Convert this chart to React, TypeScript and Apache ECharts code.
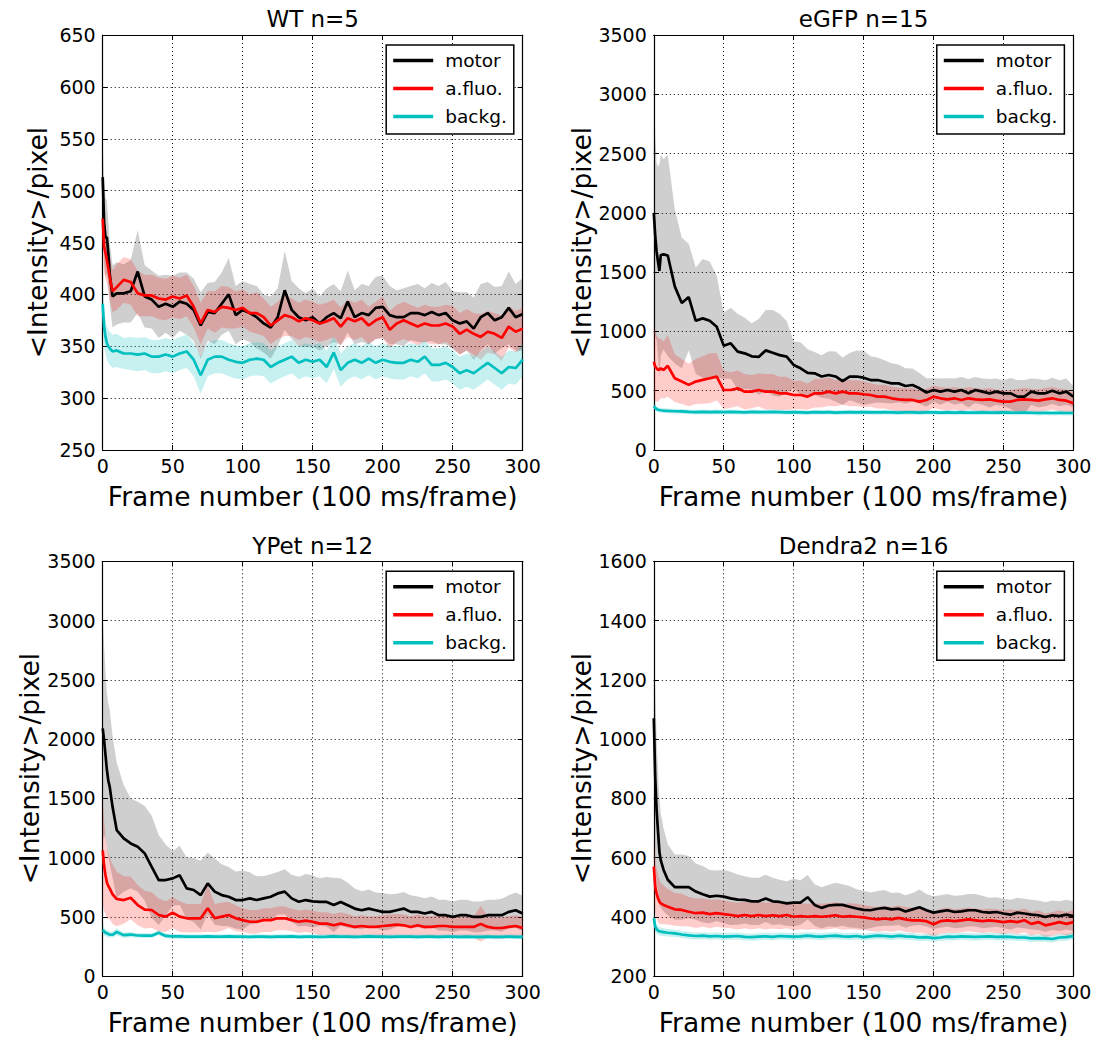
import React, { useEffect, useRef } from "react";
import * as echarts from "echarts";

const FONT = "DejaVu Sans";

// frame numbers at which values were read
const FRAMES = [
  0, 1, 2, 3, 4, 5, 7, 10, 15, 20,
  25, 30, 35, 40, 45, 50, 55, 60, 65, 70,
  75, 80, 85, 90, 95, 100, 105, 110, 115, 120,
  125, 130, 135, 140, 145, 150, 155, 160, 165, 170,
  175, 180, 185, 190, 195, 200, 205, 210, 215, 220,
  225, 230, 235, 240, 245, 250, 255, 260, 265, 270,
  275, 280, 285, 290, 295, 300,
];

const SERIES_NAMES = ["motor", "a.fluo.", "backg."];
const TITLES = ["WT n=5", "eGFP n=15", "YPet n=12", "Dendra2 n=16"];
const Y_MIN = [250, 0, 0, 200];
const Y_MAX = [650, 3500, 3500, 1600];
const Y_STEP = [50, 500, 500, 200];
const X_MIN = 0;
const X_MAX = 300;
const X_STEP = 50;
const X_NAME = "Frame number (100 ms/frame)";
const Y_NAME = "<Intensity>/pixel";

// ---------- WT n=5 ----------
const WT_MOTOR = [
  513, 470, 455, 455, 440, 420, 398, 401, 401, 403,
  422, 398, 395, 388, 391, 388, 393, 391, 385, 370,
  383, 382, 391, 400, 380, 385, 382, 378, 372, 368,
  378, 404, 385, 378, 375, 378, 372, 378, 382, 377,
  393, 378, 382, 380, 387, 388, 380, 378, 378, 382,
  382, 380, 383, 380, 382, 375, 372, 374, 367, 378,
  382, 375, 378, 387, 378, 381,
];
const WT_MOTOR_ERR = [
  35, 40, 38, 35, 32, 30, 30, 30, 28, 30,
  40, 30, 28, 30, 28, 30, 28, 30, 30, 32,
  28, 30, 30, 35, 28, 28, 28, 30, 28, 30,
  28, 38, 28, 28, 26, 28, 26, 28, 28, 26,
  30, 26, 28, 28, 30, 30, 28, 26, 28, 26,
  28, 26, 28, 28, 30, 28, 30, 28, 30, 32,
  30, 32, 30, 35, 32, 35,
];
const WT_FLUO = [
  473, 446, 440, 433, 425, 417, 403, 407, 414, 412,
  401, 399, 399, 396, 395, 398, 396, 399, 388, 372,
  385, 383, 388, 387, 385, 387, 382, 382, 378, 370,
  375, 380, 378, 374, 377, 375, 372, 374, 377, 369,
  377, 374, 377, 370, 375, 378, 366, 372, 375, 372,
  369, 372, 370, 370, 372, 369, 362, 366, 362, 359,
  364, 362, 358, 369, 364, 367,
];
const WT_FLUO_ERR = [
  25, 25, 24, 22, 22, 22, 20, 22, 22, 22,
  22, 20, 20, 20, 20, 20, 20, 20, 20, 20,
  18, 20, 20, 20, 18, 18, 18, 20, 18, 18,
  18, 20, 18, 18, 18, 18, 18, 18, 18, 18,
  18, 18, 18, 18, 18, 20, 18, 18, 18, 18,
  18, 18, 18, 18, 18, 20, 20, 20, 20, 22,
  20, 20, 22, 20, 20, 20,
];
const WT_BACKG = [
  391, 369, 359, 353, 350, 348, 345, 346, 343, 343,
  342, 343, 340, 340, 342, 340, 343, 345, 337, 322,
  337, 340, 340, 337, 335, 334, 337, 338, 337, 330,
  334, 337, 340, 334, 337, 335, 337, 330, 344, 327,
  334, 337, 334, 338, 334, 337, 335, 334, 334, 337,
  335, 340, 332, 332, 334, 330, 324, 327, 324, 329,
  334, 329, 324, 330, 329, 337,
];
const WT_BACKG_ERR = [
  20, 18, 16, 16, 16, 16, 16, 16, 15, 16,
  16, 16, 16, 16, 16, 16, 16, 16, 16, 18,
  16, 16, 16, 16, 16, 16, 16, 16, 16, 16,
  16, 16, 16, 16, 16, 16, 16, 16, 16, 16,
  16, 16, 16, 16, 16, 16, 16, 16, 16, 16,
  16, 16, 16, 16, 16, 16, 16, 16, 16, 16,
  16, 16, 16, 16, 16, 16,
];

// ---------- eGFP n=15 ----------
const EGFP_MOTOR = [
  2000, 1810, 1673, 1590, 1510, 1645, 1650, 1640, 1380, 1240,
  1290, 1090, 1110, 1090, 1040, 880, 900, 830, 815, 790,
  785, 840, 820, 800, 787, 717, 689, 650, 647, 620,
  633, 620, 580, 619, 620, 610, 590, 590, 576, 562,
  562, 540, 548, 520, 485, 506, 492, 506, 492, 506,
  478, 506, 492, 478, 492, 478, 478, 450, 450, 492,
  478, 478, 500, 478, 492, 450,
];
const EGFP_MOTOR_ERR = [
  1150, 850, 750, 800, 900, 850, 800, 850, 650, 550,
  450, 450, 500, 500, 430, 280, 300, 320, 300, 280,
  320, 340, 360, 350, 300, 200, 220, 200, 180, 180,
  200, 210, 200, 200, 220, 230, 200, 190, 180, 170,
  160, 150, 140, 130, 120, 100, 110, 100, 110, 110,
  120, 110, 110, 120, 110, 110, 130, 140, 140, 110,
  120, 110, 110, 110, 110, 90,
];
const EGFP_FLUO = [
  745, 703, 690, 675, 680, 689, 675, 710, 605, 577,
  549, 577, 591, 605, 619, 506, 506, 520, 492, 492,
  506, 492, 492, 478, 478, 464, 464, 450, 478, 478,
  492, 478, 492, 478, 478, 470, 464, 450, 450, 436,
  427, 422, 422, 408, 422, 450, 436, 427, 436, 422,
  436, 427, 422, 427, 416, 408, 408, 422, 427, 422,
  416, 427, 436, 422, 416, 394,
];
const EGFP_FLUO_ERR = [
  300, 290, 280, 270, 260, 250, 240, 260, 200, 190,
  180, 190, 200, 210, 200, 160, 150, 150, 150, 140,
  140, 150, 150, 140, 140, 120, 120, 110, 120, 120,
  120, 110, 110, 110, 110, 110, 100, 100, 100, 100,
  100, 100, 100, 95, 95, 95, 95, 95, 95, 95,
  95, 95, 95, 95, 95, 95, 95, 95, 95, 95,
  95, 95, 95, 95, 95, 90,
];
const EGFP_BACKG = [
  370, 355, 345, 340, 337, 335, 332, 330, 327, 325,
  322, 320, 322, 320, 322, 320, 322, 320, 318, 322,
  320, 320, 322, 320, 318, 320, 318, 316, 320, 318,
  320, 316, 318, 320, 318, 320, 318, 318, 320, 318,
  316, 318, 318, 316, 318, 318, 316, 318, 316, 318,
  316, 315, 318, 315, 316, 318, 315, 314, 316, 314,
  312, 314, 312, 314, 312, 312,
];
const EGFP_BACKG_ERR = [
  30, 25, 22, 20, 20, 20, 20, 20, 20, 20,
  20, 20, 20, 20, 20, 20, 20, 20, 20, 20,
  20, 20, 20, 20, 20, 20, 20, 20, 20, 20,
  20, 20, 20, 20, 20, 20, 20, 20, 20, 20,
  20, 20, 20, 20, 20, 20, 20, 20, 20, 20,
  20, 20, 20, 20, 20, 20, 20, 20, 20, 20,
  20, 20, 20, 20, 20, 20,
];

// ---------- YPet n=12 ----------
const YPET_MOTOR = [
  2090, 1990, 1865, 1740, 1650, 1598, 1430, 1232, 1162, 1119,
  1091, 1035, 922, 810, 810, 824, 850, 740, 726, 683,
  782, 712, 683, 669, 641, 641, 655, 641, 655, 669,
  697, 712, 655, 627, 641, 630, 625, 625, 600, 625,
  597, 569, 555, 569, 555, 541, 541, 555, 569, 541,
  541, 527, 541, 513, 513, 499, 513, 513, 499, 499,
  513, 513, 513, 541, 555, 527,
];
const YPET_MOTOR_ERR = [
  950, 800, 700, 650, 650, 650, 600, 570, 450, 380,
  380, 400, 430, 380, 300, 230, 250, 260, 270, 290,
  260, 280, 260, 250, 240, 250, 220, 200, 190, 190,
  180, 190, 200, 210, 220, 220, 200, 210, 230, 200,
  190, 170, 160, 160, 150, 160, 150, 140, 140, 140,
  130, 130, 130, 130, 130, 130, 130, 130, 130, 130,
  130, 130, 140, 140, 150, 150,
];
const YPET_FLUO = [
  1060, 930, 850, 790, 760, 740, 690, 650, 641, 660,
  599, 560, 557, 515, 501, 535, 501, 487, 487, 487,
  571, 487, 501, 515, 487, 472, 458, 458, 472, 472,
  487, 487, 472, 458, 467, 458, 442, 442, 428, 442,
  428, 414, 422, 414, 414, 422, 428, 433, 428, 414,
  428, 414, 414, 422, 422, 414, 414, 414, 414, 440,
  414, 405, 405, 414, 422, 405,
];
const YPET_FLUO_ERR = [
  450, 380, 330, 300, 280, 260, 250, 230, 200, 180,
  170, 160, 150, 140, 130, 130, 130, 120, 120, 120,
  200, 120, 120, 110, 110, 100, 100, 100, 100, 100,
  100, 100, 95, 95, 95, 95, 95, 95, 95, 95,
  95, 90, 90, 90, 90, 90, 90, 90, 90, 90,
  90, 90, 90, 90, 90, 90, 90, 90, 90, 150,
  90, 90, 90, 90, 90, 90,
];
const YPET_BACKG = [
  390, 375, 365, 360, 355, 350, 348, 372, 345, 350,
  342, 340, 340, 365, 338, 335, 335, 332, 333, 332,
  334, 333, 332, 334, 333, 332, 330, 333, 332, 331,
  333, 332, 334, 331, 332, 333, 331, 332, 334, 332,
  333, 331, 332, 334, 332, 333, 331, 332, 333, 332,
  331, 333, 332, 331, 333, 332, 330, 332, 331, 330,
  332, 331, 330, 332, 331, 330,
];
const YPET_BACKG_ERR = [
  40, 35, 30, 30, 28, 25, 25, 30, 22, 22,
  20, 20, 20, 20, 20, 20, 20, 20, 20, 20,
  20, 20, 20, 20, 20, 20, 20, 20, 20, 20,
  20, 20, 20, 20, 20, 20, 20, 20, 20, 20,
  20, 20, 20, 20, 20, 20, 20, 20, 20, 20,
  20, 20, 20, 20, 20, 20, 20, 20, 20, 20,
  20, 20, 20, 20, 20, 20,
];

// ---------- Dendra2 n=16 ----------
const DENDRA_MOTOR = [
  1070, 873, 760, 690, 620, 590, 558, 525, 500, 500,
  500, 485, 476, 468, 471, 468, 462, 458, 457, 452,
  452, 462, 452, 450, 445, 448, 448, 466, 440, 430,
  438, 440, 440, 434, 428, 423, 422, 427, 430, 425,
  427, 418, 425, 432, 422, 414, 418, 422, 416, 418,
  422, 422, 416, 414, 416, 411, 407, 414, 411, 407,
  405, 399, 405, 402, 407, 402,
];
const DENDRA_MOTOR_ERR = [
  140, 300, 250, 200, 180, 160, 140, 120, 110, 110,
  105, 95, 95, 90, 85, 90, 90, 85, 80, 80,
  80, 80, 80, 75, 75, 80, 75, 75, 70, 70,
  70, 75, 70, 70, 65, 65, 60, 60, 60, 55,
  55, 55, 55, 60, 55, 55, 55, 55, 55, 55,
  55, 55, 55, 50, 50, 50, 50, 50, 50, 50,
  50, 50, 50, 50, 50, 50,
];
const DENDRA_FLUO = [
  569, 502, 479, 462, 451, 445, 440, 434, 425, 423,
  417, 412, 414, 409, 412, 409, 406, 402, 406, 402,
  406, 402, 405, 402, 406, 400, 402, 400, 402, 400,
  402, 405, 400, 402, 400, 398, 394, 391, 394, 391,
  396, 391, 388, 388, 385, 375, 385, 388, 385, 388,
  391, 388, 385, 388, 385, 382, 385, 382, 388, 376,
  382, 371, 376, 382, 376, 382,
];
const DENDRA_FLUO_ERR = [
  100, 90, 85, 80, 75, 70, 65, 60, 55, 55,
  50, 50, 48, 48, 46, 46, 45, 45, 45, 45,
  45, 45, 45, 45, 45, 45, 44, 44, 44, 44,
  44, 44, 44, 44, 44, 42, 42, 42, 42, 42,
  42, 42, 42, 42, 42, 42, 42, 42, 40, 40,
  40, 40, 40, 40, 40, 40, 40, 40, 40, 40,
  40, 40, 40, 40, 40, 40,
];
const DENDRA_BACKG = [
  395, 367, 358, 353, 351, 350, 348, 346, 344, 340,
  337, 335, 336, 334, 335, 333, 334, 335, 332, 331,
  333, 334, 332, 335, 334, 333, 334, 336, 334, 333,
  335, 336, 334, 333, 335, 331, 334, 336, 335, 333,
  336, 334, 333, 330, 331, 328, 330, 333, 332, 334,
  333, 332, 333, 334, 332, 333, 332, 330, 330, 327,
  328, 327, 325, 330, 331, 335,
];
const DENDRA_BACKG_ERR = [
  22, 18, 15, 14, 14, 14, 13, 13, 12, 12,
  12, 12, 12, 12, 12, 12, 12, 12, 12, 12,
  12, 12, 12, 12, 12, 12, 12, 12, 12, 12,
  12, 12, 12, 12, 12, 12, 12, 12, 12, 12,
  12, 12, 12, 12, 12, 12, 12, 12, 12, 12,
  12, 12, 12, 12, 12, 12, 12, 12, 12, 12,
  12, 12, 12, 12, 12, 12,
];

const PANEL_MEANS = [
  [WT_MOTOR, WT_FLUO, WT_BACKG],
  [EGFP_MOTOR, EGFP_FLUO, EGFP_BACKG],
  [YPET_MOTOR, YPET_FLUO, YPET_BACKG],
  [DENDRA_MOTOR, DENDRA_FLUO, DENDRA_BACKG],
];
const PANEL_ERRS = [
  [WT_MOTOR_ERR, WT_FLUO_ERR, WT_BACKG_ERR],
  [EGFP_MOTOR_ERR, EGFP_FLUO_ERR, EGFP_BACKG_ERR],
  [YPET_MOTOR_ERR, YPET_FLUO_ERR, YPET_BACKG_ERR],
  [DENDRA_MOTOR_ERR, DENDRA_FLUO_ERR, DENDRA_BACKG_ERR],
];

// styling / layout
const LINE_COLORS = ["#000000", "#ff0000", "#00bfbf"];
const BAND_COLORS = ["rgba(0,0,0,0.19)", "rgba(255,0,0,0.2)", "rgba(0,191,191,0.22)"];
const GRIDS = [
  { left: 102.7, top: 35, width: 420, height: 415 },
  { left: 653.8, top: 35, width: 419.5, height: 415 },
  { left: 102.7, top: 561.3, width: 420, height: 414.7 },
  { left: 653.8, top: 561.3, width: 419.5, height: 414.7 },
];

const plainNumber = (v: number) => String(v);

function buildOption() {
  const grid: any[] = [];
  const xAxis: any[] = [];
  const yAxis: any[] = [];
  const series: any[] = [];
  const legend: any[] = [];
  const graphic: any[] = [];

  GRIDS.forEach((g, p) => {
    grid.push({ ...g, show: false, containLabel: false });
    const tickStyle = { color: "#000", width: 1 };
    xAxis.push({
      gridIndex: p,
      type: "value",
      min: X_MIN,
      max: X_MAX,
      interval: X_STEP,
      position: "bottom",
      axisLine: { show: true, onZero: false, lineStyle: { color: "#000", width: 1.2 } },
      axisTick: { show: true, inside: true, length: 5, lineStyle: tickStyle },
      axisLabel: { show: true, color: "#000", fontSize: 19, fontFamily: FONT, margin: 6, formatter: plainNumber },
      splitLine: { show: true, lineStyle: { color: "#000", type: [1, 3], width: 1 } },
      name: X_NAME,
      nameLocation: "middle",
      nameGap: 32.5,
      nameTextStyle: { color: "#000", fontSize: 26.5, fontFamily: FONT },
    });
    xAxis.push({
      gridIndex: p,
      type: "value",
      min: X_MIN,
      max: X_MAX,
      interval: X_STEP,
      position: "top",
      axisLine: { show: true, onZero: false, lineStyle: { color: "#000", width: 1.2 } },
      axisTick: { show: true, inside: true, length: 5, lineStyle: tickStyle },
      axisLabel: { show: false },
      splitLine: { show: false },
    });
    yAxis.push({
      gridIndex: p,
      type: "value",
      min: Y_MIN[p],
      max: Y_MAX[p],
      interval: Y_STEP[p],
      position: "left",
      axisLine: { show: true, onZero: false, lineStyle: { color: "#000", width: 1.2 } },
      axisTick: { show: true, inside: true, length: 5, lineStyle: tickStyle },
      axisLabel: { show: true, color: "#000", fontSize: 19, fontFamily: FONT, margin: 7, formatter: plainNumber },
      splitLine: { show: true, lineStyle: { color: "#000", type: [1, 3], width: 1 } },
      name: Y_NAME,
      nameLocation: "middle",
      nameRotate: 90,
      nameGap: 51.5,
      nameTextStyle: { color: "#000", fontSize: 26.5, fontFamily: FONT },
    });
    yAxis.push({
      gridIndex: p,
      type: "value",
      min: Y_MIN[p],
      max: Y_MAX[p],
      interval: Y_STEP[p],
      position: "right",
      axisLine: { show: true, onZero: false, lineStyle: { color: "#000", width: 1.2 } },
      axisTick: { show: true, inside: true, length: 5, lineStyle: tickStyle },
      axisLabel: { show: false },
      splitLine: { show: false },
    });

    const means = PANEL_MEANS[p];
    const errs = PANEL_ERRS[p];
    means.forEach((mean, s) => {
      const err = errs[s];
      const fill = BAND_COLORS[s];
      series.push({
        type: "custom",
        name: SERIES_NAMES[s] + " err " + p,
        xAxisIndex: 2 * p,
        yAxisIndex: 2 * p,
        coordinateSystem: "cartesian2d",
        silent: true,
        clip: true,
        z: 1,
        encode: { x: 0, y: [1, 2] },
        data: FRAMES.map((f, i) => [f, mean[i] - err[i], mean[i] + err[i]]),
        renderItem: (params: any, api: any) => {
          if (params.dataIndex !== 0) return null;
          const upper: number[][] = [];
          const lower: number[][] = [];
          for (let i = 0; i < FRAMES.length; i++) {
            upper.push(api.coord([FRAMES[i], mean[i] + err[i]]));
            lower.push(api.coord([FRAMES[i], mean[i] - err[i]]));
          }
          return {
            type: "polygon",
            shape: { points: upper.concat(lower.reverse()) },
            style: { fill, stroke: null },
          };
        },
      });
    });
    means.forEach((mean, s) => {
      series.push({
        type: "line",
        name: SERIES_NAMES[s],
        xAxisIndex: 2 * p,
        yAxisIndex: 2 * p,
        data: FRAMES.map((f, i) => [f, mean[i]]),
        symbol: "none",
        showSymbol: false,
        z: 3,
        lineStyle: { color: LINE_COLORS[s], width: 2.7 },
        itemStyle: { color: LINE_COLORS[s] },
      });
    });

    const right = g.left + g.width;
    legend.push({
      data: SERIES_NAMES.map((n) => ({ name: n, icon: "rect" })),
      orient: "vertical",
      left: right - 9.5 - 127,
      top: g.top + 10,
      itemWidth: 40,
      itemHeight: 3.5,
      itemGap: 9,
      padding: [6, 7, 8, 7],
      borderColor: "#000",
      borderWidth: 1.5,
      borderRadius: 0,
      backgroundColor: "#fff",
      selectedMode: false,
      itemStyle: { borderWidth: 0 },
      textStyle: { color: "#000", fontSize: 18.5, fontFamily: FONT, padding: [0, 0, 0, 7] },
    });

    graphic.push({
      type: "text",
      x: g.left + g.width / 2,
      y: g.top - 15.7,
      silent: true,
      style: {
        text: TITLES[p],
        fill: "#000",
        fontSize: 23,
        fontFamily: FONT,
        textAlign: "center",
        verticalAlign: "middle",
      },
    });
  });

  return {
    animation: false,
    backgroundColor: "#ffffff",
    textStyle: { fontFamily: FONT },
    grid,
    xAxis,
    yAxis,
    legend,
    series,
    graphic,
  };
}

export default function App() {
  const ref = useRef<HTMLDivElement>(null);
  useEffect(() => {
    document.body.style.margin = "0";
    const chart = echarts.init(ref.current as HTMLDivElement, null, { renderer: "svg" });
    chart.setOption(buildOption() as any);
    return () => chart.dispose();
  }, []);
  return (
    <div
      ref={ref}
      style={{ position: "absolute", left: 0, top: 0, width: 1098, height: 1044, background: "#fff" }}
    />
  );
}
